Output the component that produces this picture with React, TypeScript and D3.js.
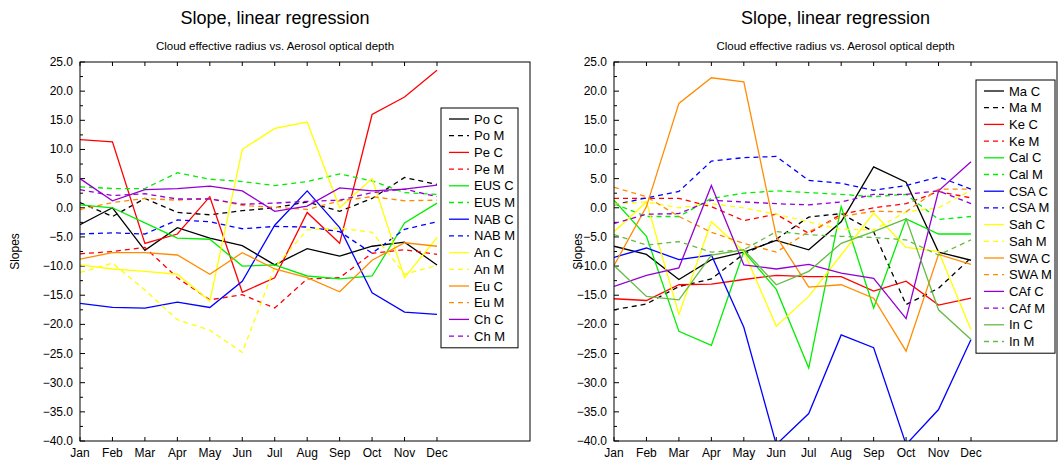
import * as d3 from 'd3'

const months = ['Jan', 'Feb', 'Mar', 'Apr', 'May', 'Jun', 'Jul', 'Aug', 'Sep', 'Oct', 'Nov', 'Dec']
const yTicks = [25, 20, 15, 10, 5, 0, -5, -10, -15, -20, -25, -30, -35, -40]

const black = '#000000'
const red = '#ff0000'
const green = '#00ee00'
const blue = '#0000ff'
const yellow = '#ffff00'
const orange = '#ff8c00'
const purple = '#9400d3'
const olive = '#66bb44'

const poC = [-2.9, 0, -7.3, -3.4, -5.2, -6.5, -9.8, -7, -8.3, -6.6, -5.9, -9.8]
const poM = [0.9, -1.5, 1.6, -0.8, -1.2, -0.5, 0, 1, -0.6, 1.6, 5.2, 4.0]
const peC = [11.7, 11.3, -6.1, -4.5, 1.9, -14.5, -12, -0.8, -6.1, 16, 19, 23.6]
const peM = [-7.9, -7.5, -6.8, -12, -15.8, -14.9, -17.2, -12.2, -12, -7.8, -7.2, -8]
const eusC = [0.5, 0, -2.6, -5.2, -5.4, -10, -9.8, -11.7, -12.2, -11.7, -2.6, 0.8]
const eusM = [3.6, 3.3, 3.3, 6, 4.9, 4.5, 3.8, 4.5, 5.8, 4.6, 2.6, 2.3]
const nabC = [-16.4, -17.1, -17.2, -16.2, -17.1, -12.6, -3, 2.9, -3.4, -14.6, -17.9, -18.3]
const nabM = [-4.5, -4.3, -4.5, -2.1, -2.4, -3.6, -3.2, -3.3, -4.1, -7.8, -3.7, -2.4]
const anC = [-9.8, -10.5, -10.9, -11.4, -16, 10, 13.6, 14.7, 0, 5, -12, -5.1]
const anM = [-11.1, -9.5, -14.1, -19.2, -21, -24.8, -10.2, -3.8, -3.5, -4.2, -11.4, -9.9]
const euC = [-8.8, -7.7, -7.7, -8.1, -11.4, -7.7, -10.5, -12, -14.4, -9, -6, -6.6]
const euM = [-0.3, 0.9, 1.6, 1.3, 1.6, 0.4, 0.1, -0.3, 1.2, 1.9, 1.2, 1.3]
const chC = [5, 1.2, 3.1, 3.3, 3.7, 2.9, -0.6, 0.3, 3.4, 2.9, 3.2, 3.9]
const chM = [3.1, 2.1, 2.4, 1.5, 1.5, 0.6, 0.8, 1.1, 1.3, 2.6, 3.2, 1.9]

const maC = [-6.6, -8, -12.3, -8.9, -7.6, -5.6, -7.2, -2.4, 7, 4.4, -7.6, -9]
const maM = [-17.5, -16.5, -13.5, -12.2, -7.9, -5.4, -1.6, -1, -4.1, -16.6, -13.8, -8.6]
const keC = [-15.6, -15.9, -13.2, -13.1, -12.3, -11.6, -11.8, -11.8, -14.3, -12.6, -16.7, -15.5]
const keM = [1.6, 1.6, 1.6, 0.2, -2.2, -1.1, -4.4, -1.1, 0, 0.7, 2.8, 1.7]
const calC = [1.3, -4.9, -21.2, -23.6, -7.5, -14, -27.5, 0.2, -17.2, -1.9, -4.5, -4.5]
const calM = [0.7, -1.5, -1.5, 1.6, 2.5, 2.9, 2.6, 2.3, 1.9, 2.3, -2, -1.5]
const csaC = [-8.5, -6.9, -8.9, -8.1, -20.5, -40.6, -35.3, -21.8, -24, -40.6, -34.6, -22.6]
const csaM = [0.5, 1.7, 2.8, 8, 8.6, 8.8, 4.7, 4.2, 3, 3.8, 5.3, 3.2]
const sahC = [-4.1, 1, -18.3, -2.4, -7.5, -20.3, -15.2, -8.1, -0.9, -6.8, -7.5, -20.9]
const sahM = [0.6, 1, 0, 0.7, 0, -1.1, -2.4, -3.7, -3.8, -0.7, 0, 3]
const swaC = [-9.9, 0.2, 17.9, 22.3, 21.6, -4.9, -13.6, -13.2, -15.5, -24.6, -8, -9.7]
const swaM = [3.5, 1.9, -1.5, -4.2, -6.1, -7.6, -4.1, -1.5, -0.6, -0.7, 3.2, 3.2]
const cafC = [-13.5, -11.6, -10.3, 3.8, -9.8, -10.5, -9.7, -11.2, -12.1, -19, 2.9, 7.9]
const cafM = [-2.7, -1.1, -1, 1.3, 1, 0.7, 0.5, 1, 2.3, 2.3, 2.9, 0.7]
const inC = [-9.9, -15.2, -15.8, -8.1, -7.2, -13.2, -10.9, -6.1, -4.1, -1.9, -17.5, -22.6]
const inM = [-4.6, -6.4, -5.8, -7.6, -7.2, -4.1, -4.6, -4.9, -5.1, -5.5, -8.1, -5.5]

type S = { name: string; values: number[]; color: string; dashed: boolean }

const leftSeries: S[] = [
  { name: 'Po C', values: poC, color: black, dashed: false },
  { name: 'Po M', values: poM, color: black, dashed: true },
  { name: 'Pe C', values: peC, color: red, dashed: false },
  { name: 'Pe M', values: peM, color: red, dashed: true },
  { name: 'EUS C', values: eusC, color: green, dashed: false },
  { name: 'EUS M', values: eusM, color: green, dashed: true },
  { name: 'NAB C', values: nabC, color: blue, dashed: false },
  { name: 'NAB M', values: nabM, color: blue, dashed: true },
  { name: 'An C', values: anC, color: yellow, dashed: false },
  { name: 'An M', values: anM, color: yellow, dashed: true },
  { name: 'Eu C', values: euC, color: orange, dashed: false },
  { name: 'Eu M', values: euM, color: orange, dashed: true },
  { name: 'Ch C', values: chC, color: purple, dashed: false },
  { name: 'Ch M', values: chM, color: purple, dashed: true },
]

const rightSeries: S[] = [
  { name: 'Ma C', values: maC, color: black, dashed: false },
  { name: 'Ma M', values: maM, color: black, dashed: true },
  { name: 'Ke C', values: keC, color: red, dashed: false },
  { name: 'Ke M', values: keM, color: red, dashed: true },
  { name: 'Cal C', values: calC, color: green, dashed: false },
  { name: 'Cal M', values: calM, color: green, dashed: true },
  { name: 'CSA C', values: csaC, color: blue, dashed: false },
  { name: 'CSA M', values: csaM, color: blue, dashed: true },
  { name: 'Sah C', values: sahC, color: yellow, dashed: false },
  { name: 'Sah M', values: sahM, color: yellow, dashed: true },
  { name: 'SWA C', values: swaC, color: orange, dashed: false },
  { name: 'SWA M', values: swaM, color: orange, dashed: true },
  { name: 'CAf C', values: cafC, color: purple, dashed: false },
  { name: 'CAf M', values: cafM, color: purple, dashed: true },
  { name: 'In C', values: inC, color: olive, dashed: false },
  { name: 'In M', values: inM, color: olive, dashed: true },
]

const font = 'Liberation Sans, Arial, sans-serif'
const fmt = (v: number) => v.toFixed(1).replace('-', '\u2212')

function Panel({ id, x0, x1, jan, dec, series, legend, labelX }: {
  id: string; x0: number; x1: number; jan: number; dec: number; series: S[]
  legend: { x: number; y: number; w: number }; labelX: number
}) {
  const top = 62, bottom = 441
  const y = d3.scaleLinear().domain([-40, 25]).range([bottom, top])
  const x = d3.scalePoint<string>().domain(months).range([jan, dec])
  const line = d3.line<number>().x((_, i) => x(months[i])!).y(d => y(d))
  const minor = d3.range(-40, 25.01, 2.5)
  const rowH = 16.7
  const cx = (x0 + x1) / 2 + (id === 'l' ? -30 : 0)
  return (
    <g fontFamily={font}>
      <defs>
        <clipPath id={'clip' + id}>
          <rect x={x0} y={top} width={x1 - x0} height={bottom - top} />
        </clipPath>
      </defs>
      <text x={cx} y={24} textAnchor="middle" fontSize={18}>Slope, linear regression</text>
      <text x={cx} y={50} textAnchor="middle" fontSize={11.5}>Cloud effective radius vs. Aerosol optical depth</text>
      <text transform={`translate(${labelX},${(top + bottom) / 2}) rotate(-90)`} textAnchor="middle" fontSize={12}>Slopes</text>
      {minor.map(v => (
        <line key={'m' + v} x1={x0} x2={x0 + (v % 5 === 0 ? 5 : 3)} y1={y(v)} y2={y(v)} stroke="#000" />
      ))}
      {yTicks.map(v => (
        <text key={v} x={x0 - 7} y={y(v) + 4} textAnchor="end" fontSize={12}>{fmt(v)}</text>
      ))}
      {months.map(m => (
        <g key={m}>
          <line x1={x(m)} x2={x(m)} y1={bottom} y2={bottom - 4} stroke="#000" />
          <line x1={x(m)} x2={x(m)} y1={top} y2={top + 4} stroke="#000" />
          <text x={x(m)} y={bottom + 16} textAnchor="middle" fontSize={12}>{m}</text>
        </g>
      ))}
      <g clipPath={`url(#clip${id})`}>
        {series.map(s => (
          <path key={s.name} d={line(s.values)!} fill="none" stroke={s.color}
            strokeWidth={1.3} strokeDasharray={s.dashed ? '5,4' : undefined} />
        ))}
      </g>
      <rect x={x0} y={top} width={x1 - x0} height={bottom - top} fill="none" stroke="#000" />
      <rect x={legend.x} y={legend.y} width={legend.w} height={series.length * rowH + 6} fill="#fff" stroke="#000" />
      {series.map((s, i) => (
        <g key={'lg' + s.name}>
          <line x1={legend.x + 8} x2={legend.x + 28} y1={legend.y + 11 + i * rowH} y2={legend.y + 11 + i * rowH}
            stroke={s.color} strokeWidth={1.3} strokeDasharray={s.dashed ? '5,4' : undefined} />
          <text x={legend.x + 33} y={legend.y + 15.5 + i * rowH} fontSize={13}>{s.name}</text>
        </g>
      ))}
    </g>
  )
}

export default function App() {
  return (
    <svg width={1058} height={461} style={{ position: 'absolute', left: 0, top: 0, background: '#fff' }}>
      <Panel id="l" x0={80} x1={530} jan={80} dec={437} series={leftSeries} legend={{ x: 441, y: 108, w: 77 }} labelX={19} />
      <Panel id="r" x0={614} x1={1057} jan={614} dec={971} series={rightSeries} legend={{ x: 976, y: 80, w: 79 }} labelX={582} />
    </svg>
  )
}
